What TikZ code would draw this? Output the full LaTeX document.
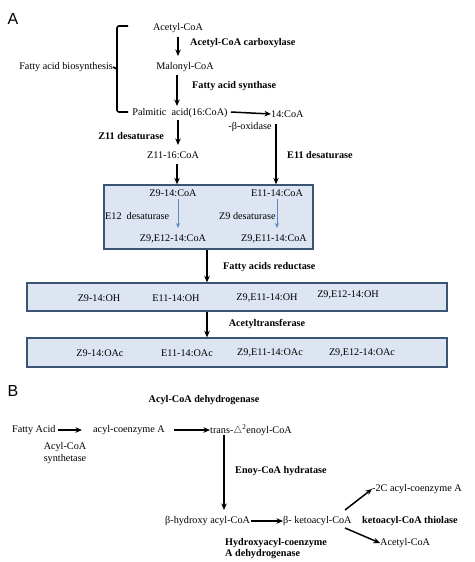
\documentclass[tikz,border=0pt]{standalone}
\usepackage{fontspec}
\setmainfont{Liberation Serif}
\newfontfamily\labfont{Liberation Sans}
\usetikzlibrary{arrows.meta}
\definecolor{boxfill}{HTML}{DCE5F1}
\definecolor{boxline}{HTML}{3C5473}
\definecolor{bluearr}{HTML}{5B8BC4}
\tikzset{
  txt/.style={inner sep=0pt, font=\fontsize{10.2}{11.5}\selectfont},
  btxt/.style={inner sep=0pt, font=\fontsize{10.2}{11.5}\selectfont\bfseries},
  panel/.style={inner sep=0pt, font=\fontsize{16}{18}\selectfont\labfont},
  boxed/.style={draw=boxline, fill=boxfill, line width=1.3pt, inner sep=0pt},
  arr/.style={line width=1.5pt, -{Stealth[length=6.5pt,width=5.5pt]}},
  barr/.style={line width=0.8pt, draw=bluearr, -{Stealth[length=5pt,width=4pt]}},
}
\begin{document}
\begin{tikzpicture}[x=1pt,y=-1pt]
\useasboundingbox (0,0) rectangle (474,562);
% Panel A
\node[panel] (pA) at (13,19) {A};
\node[txt] (a1) at (178,28) {Acetyl-CoA};
\node[txt] (a2) at (185,67) {Malonyl-CoA};
\node[txt] (a3) at (180,113) {Palmitic\ \ acid(16:CoA)};
\node[txt, anchor=west] (a4) at (271,114) {14:CoA};
\node[txt] (box) at (250,127) {-β-oxidase};
\node[txt] (a5) at (173,155) {Z11-16:CoA};
\node[txt, anchor=east] (fab) at (113,67) {Fatty acid biosynthesis};
\node[btxt, anchor=west] (e1) at (190,43) {Acetyl-CoA carboxylase};
\node[btxt, anchor=west] (e2) at (192,86) {Fatty acid synthase};
\node[btxt, anchor=east] (e3) at (164,136) {Z11 desaturase};
\node[btxt, anchor=west] (e4) at (287,155) {E11 desaturase};
% bracket
\draw[line width=1.6pt, rounded corners=2pt] (128,26) -- (117,26) -- (117,112) -- (128,112);
\draw[line width=1.6pt] (117,69) -- (fab.east);
% arrows
\draw[arr] (178,37) -- (178,56);
\draw[arr] (177,75) -- (177,106);
\draw[arr] (178,120) -- (178,145);
\draw[arr] (a3.east) ++(3,-1) -- (a4.west);
% box 1
\node[boxed, minimum width=209pt, minimum height=64pt] (b0) at (208.5,217) {};
\coordinate (s1) at (177,164);
\coordinate (s2) at (276,124);
\draw[arr] (s1) -- (s1 |- b0.north);
\draw[arr] (s2) -- (s2 |- b0.north);
\node[txt] (b1) at (173,193) {Z9-14:CoA};
\node[txt] (b2) at (277,193) {E11-14:CoA};
\node[txt] (b3) at (173,239) {Z9,E12-14:CoA};
\node[txt] (b4) at (274,239) {Z9,E11-14:CoA};
\node[txt, anchor=west] (d1) at (105,216) {E12\ \ desaturase};
\node[txt, anchor=west] (d2) at (219,216) {Z9 desaturase};
\draw[barr] (178,199) -- (178,228);
\draw[barr] (277,199) -- (277,228);
% box 2
\node[boxed, minimum width=420pt, minimum height=28pt] (c0) at (237,297) {};
\coordinate (s3) at (207,250);
\draw[arr] (s3 |- b0.south) -- (s3 |- c0.north);
\node[btxt, anchor=west] (e5) at (223,267) {Fatty acids reductase};
\node[txt] (c1) at (99,298) {Z9-14:OH};
\node[txt] (c2) at (176,298) {E11-14:OH};
\node[txt] (c3) at (267,298) {Z9,E11-14:OH};
\node[txt] (c4) at (348,295) {Z9,E12-14:OH};
% box 3
\node[boxed, minimum width=420pt, minimum height=29pt] (f0) at (237,352.5) {};
\draw[arr] (s3 |- c0.south) -- (s3 |- f0.north);
\node[btxt] (e6) at (267,324) {Acetyltransferase};
\node[txt] (f1) at (100,353) {Z9-14:OAc};
\node[txt] (f2) at (187,353) {E11-14:OAc};
\node[txt] (f3) at (270,353) {Z9,E11-14:OAc};
\node[txt] (f4) at (362,353) {Z9,E12-14:OAc};
% Panel B
\node[panel] (pB) at (13,391) {B};
\node[btxt] (g0) at (204,400) {Acyl-CoA dehydrogenase};
\node[txt, anchor=west] (g1) at (12,430) {Fatty Acid};
\node[txt, anchor=west] (g2) at (93,430) {acyl-coenzyme A};
\node[txt, anchor=west] (g3) at (210,430) {trans-$\triangle$\textsuperscript{2}enoyl-CoA};
\node[txt, align=center] (g4) at (65,453) {Acyl-CoA\\synthetase};
\draw[arr] (g1.east) ++(2,0) -- (82,430);
\draw[arr] (g2.east) ++(9,0) -- (g3.west);
\node[btxt, anchor=west] (g5) at (235,471) {Enoy-CoA hydratase};
\node[txt, anchor=west] (h1) at (165,521) {β-hydroxy acyl-CoA};
\node[txt, anchor=west] (h2) at (283,521) {β- ketoacyl-CoA};
\node[txt, anchor=west] (h3) at (372,489) {-2C acyl-coenzyme A};
\node[txt, anchor=west] (h4) at (380,543) {Acetyl-CoA};
\node[btxt, anchor=west] (h5) at (362,521) {ketoacyl-CoA thiolase};
\node[btxt, anchor=north west, align=left] (h6) at (225,538) {Hydroxyacyl-coenzyme\\A dehydrogenase};
\draw[arr] (224,435) -- (224,510);
\draw[arr] (h1.east) ++(1,0) -- (h2.west);
\draw[arr] (345,510) -- (h3.west);
\draw[arr] (345,528) -- (h4.west);
\end{tikzpicture}
\end{document}
